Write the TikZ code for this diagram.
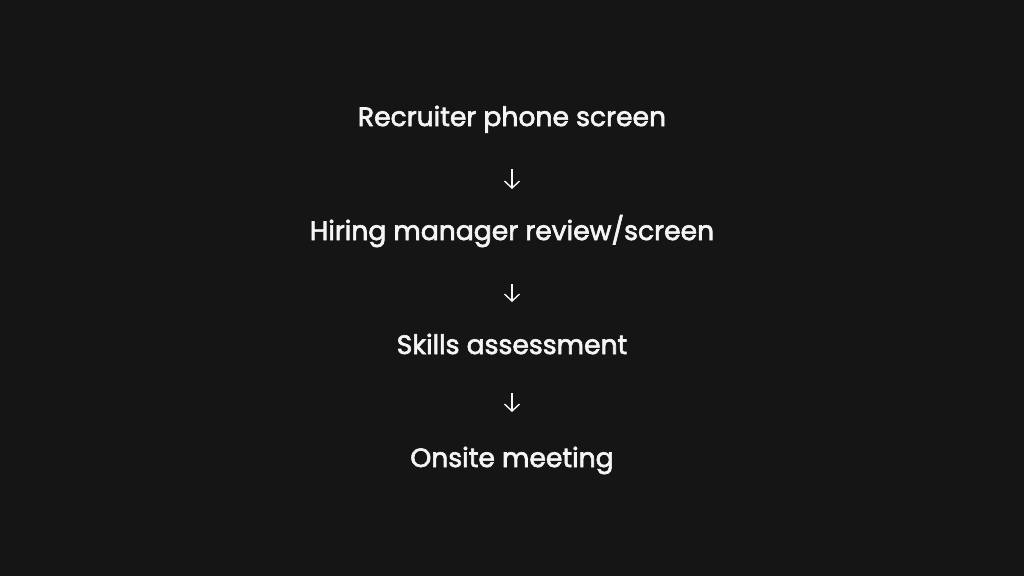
\documentclass[tikz,border=0pt]{standalone}
\usepackage{fontspec}
\setmainfont{Poppins}[FakeBold=2.4]
\usetikzlibrary{arrows.meta}
\definecolor{bg}{HTML}{151515}
\definecolor{fg}{HTML}{F5F5F5}
\begin{document}
\begin{tikzpicture}[x=1pt,y=-1pt,
  stagebox/.style={text=fg,font=\fontsize{26.6}{32}\selectfont,inner sep=0pt,anchor=base},
  arr/.style={draw=fg,line width=1.4pt,-{Straight Barb[length=7pt,width=15pt,line width=1.4pt]}}]
\fill[bg] (0,0) rectangle (1024,576);
\useasboundingbox (0,0) rectangle (1024,576);
\node[stagebox] (a) at (512,126) {Recruiter phone screen};
\node[stagebox] (b) at (512,240) {Hiring manager review/screen};
\node[stagebox] (c) at (512,354) {Skills assessment};
\node[stagebox] (d) at (512,467) {Onsite meeting};
\draw[arr,shorten <=43pt,shorten >=51pt] (a.base) -- (b.base);
\draw[arr,shorten <=44pt,shorten >=52pt] (b.base) -- (c.base);
\draw[arr,shorten <=39pt,shorten >=55pt] (c.base) -- (d.base);
\end{tikzpicture}
\end{document}
